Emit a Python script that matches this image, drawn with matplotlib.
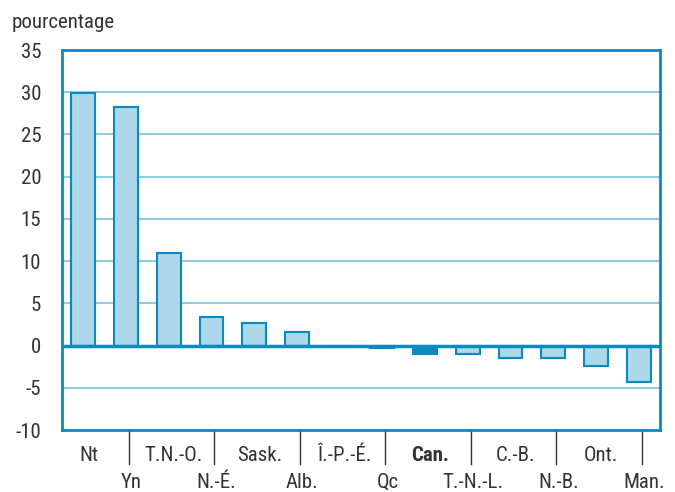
import numpy as np
import matplotlib.pyplot as plt
from matplotlib import font_manager

names = {f.name for f in font_manager.fontManager.ttflist}
narrow = [n for n in ["Liberation Sans Narrow", "Roboto Condensed", "DejaVu Sans"] if n in names]
plt.rcParams['font.family'] = narrow + ['DejaVu Sans']
plt.rcParams['font.stretch'] = 'condensed'

provinces = ["Nt", "Yn", "T.N.-O.", "N.-É.", "Sask.", "Alb.", "Î.-P.-É.",
             "Qc", "Can.", "T.-N.-L.", "C.-B.", "N.-B.", "Ont.", "Man."]
change = [29.9, 28.2, 11.0, 3.4, 2.7, 1.6, 0.0,
          -0.3, -1.0, -1.0, -1.5, -1.5, -2.4, -4.3]
yticks = [-10, -5, 0, 5, 10, 15, 20, 25, 30, 35]

edge = "#0a8bc0"
fill = "#acd8ea"
grid = "#7cc3dc"
text = "#333333"
fs = 15

fig = plt.figure(figsize=(6.75, 4.92), dpi=100)
ax = fig.add_axes([62 / 675, 62 / 492, 598 / 675, 380 / 492])

x = np.arange(len(provinces))
colors = [edge if p == "Can." else fill for p in provinces]
ax.bar(x, change, width=0.56, color=colors, edgecolor=edge, linewidth=1.5, zorder=3)

ax.set_xlim(-0.5, len(provinces) - 0.5)
ax.set_ylim(-10, 35)
ax.set_yticks(yticks)
ax.set_yticklabels([str(v) for v in yticks], fontsize=fs, color=text)
ax.tick_params(axis='y', length=0, pad=15)
for v in yticks[1:-1]:
    ax.axhline(v, color=grid, linewidth=1.2, zorder=1)
ax.axhline(0, color=edge, linewidth=2.5, zorder=4)
for s in ax.spines.values():
    s.set_color(edge)
    s.set_linewidth(2)

ax.set_xticks([])
trans = ax.get_xaxis_transform()
for i, p in enumerate(provinces):
    bold = "bold" if p == "Can." else "normal"
    if i % 2 == 0:
        ax.text(i + 0.12, -0.068, p, transform=trans, ha="center", va="center",
                fontsize=fs, color=text, fontweight=bold)
    else:
        ax.text(i + 0.12, -0.138, p, transform=trans, ha="center", va="center",
                fontsize=fs, color=text, fontweight=bold)
        ax.plot([i + 0.07, i + 0.07], [0, -0.09], transform=trans,
                color=text, linewidth=1, clip_on=False)

fig.text(12 / 675, 1 - 22 / 492, "pourcentage", fontsize=fs, color=text, va="center")

fig.savefig("out.png", dpi=100)
